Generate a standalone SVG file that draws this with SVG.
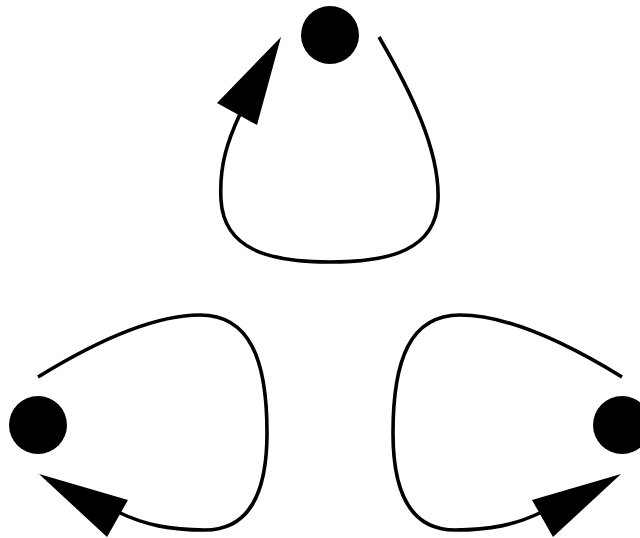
<svg xmlns="http://www.w3.org/2000/svg" width="640" height="538" viewBox="0 0 640 538">
<style>
.node{fill:#000}
.edge{fill:none;stroke:#000;stroke-width:3.6}
.head{fill:#000}
</style>
<rect width="640" height="538" fill="#fff"/>
<g id="connectors">
<path class="edge" d="M379,37 C410,90 440,150 438,200 C436,250 390,262 330,262 C270,262 224,250 221,200 C219,165 228,140 240,114"/>
<polygon class="head" points="281,37 217,103 257,125"/>
<path class="edge" d="M38,377 C90,345 150,315 200,315 C250,315 267,360 267,433 C267,500 245,530 205,530 C170,530 145,525 118,512"/>
<polygon class="head" points="39,474 128,500 107,537"/>
<path class="edge" d="M622,377 C570,345 510,315 460,315 C410,315 393,360 393,433 C393,500 415,530 455,530 C490,530 515,525 542,512"/>
<polygon class="head" points="621,474 532,500 553,537"/>
</g>
<g id="node-top"><circle class="node" cx="330" cy="35" r="29"/></g>
<g id="node-left"><circle class="node" cx="38" cy="425" r="29"/></g>
<g id="node-right"><circle class="node" cx="622" cy="425" r="29"/></g>
</svg>
